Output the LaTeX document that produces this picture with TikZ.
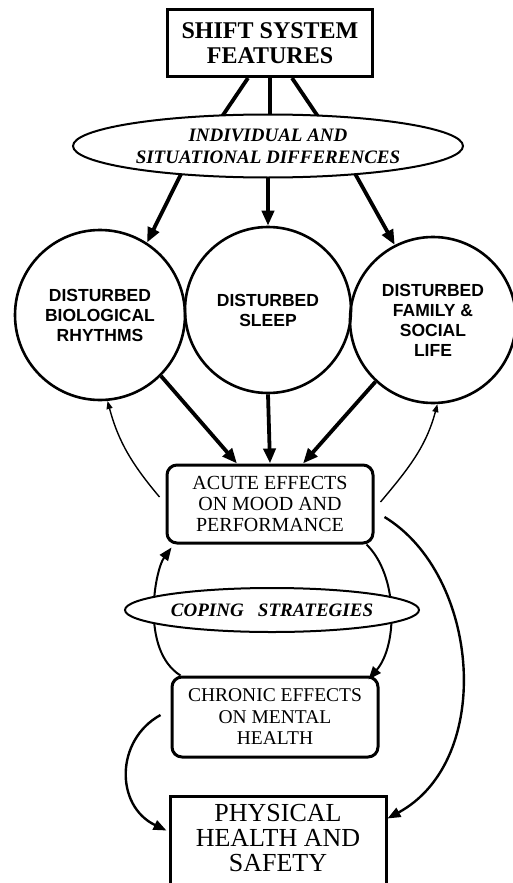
\documentclass[tikz,border=0pt]{standalone}
\usepackage{fontspec}
\setmainfont{Liberation Serif}
\setsansfont{Liberation Sans}
\usetikzlibrary{arrows.meta,shapes.geometric,calc}

\tikzset{
  bigtip/.style={-{Triangle[length=15pt,width=12pt]}},
  midtip/.style={-{Triangle[length=13pt,width=10pt]}},
  smalltip/.style={-{Triangle[length=8pt,width=6pt]}},
  thickline/.style={line width=3.8pt},
  topbox/.style={draw,line width=3pt,minimum width=205pt,minimum height=67pt,
    align=center,inner sep=0pt,font=\bfseries\fontsize{24}{25}\selectfont},
  oval/.style={draw,fill=white,ellipse,line width=2pt,inner sep=0pt,align=center,
    font=\bfseries\itshape\fontsize{19}{22}\selectfont},
  disc/.style={draw,circle,line width=2.6pt,inner sep=0pt,align=center,
    font=\sffamily\bfseries\fontsize{17.5}{20}\selectfont},
  effectbox/.style={draw,rounded corners=10pt,line width=3pt,align=center,inner sep=0pt,
    minimum width=206pt},
  plainbox/.style={draw,line width=3pt,inner sep=0pt},
}

\begin{document}
\begin{tikzpicture}[x=1pt,y=-1pt]
\useasboundingbox (0,0) rectangle (512,883);

% --- nodes ---
\node[topbox] (shift) at (270,43) {SHIFT SYSTEM\\FEATURES};

\node[disc,minimum size=170pt] (bio)  at (100,315) {DISTURBED\\BIOLOGICAL\\RHYTHMS};
\node[disc,minimum size=166pt] (sleep) at (268,310) {DISTURBED\\SLEEP};
\node[disc,minimum size=166pt] (fam)  at (433,320) {DISTURBED\\FAMILY \&\\SOCIAL\\LIFE};

\node[effectbox,minimum height=78pt,font=\fontsize{20}{21}\selectfont]
  (acute) at (270,504) {ACUTE EFFECTS\\ON MOOD AND\\PERFORMANCE};
\node[effectbox,minimum height=80pt,font=\fontsize{19.5}{21.5}\selectfont]
  (chronic) at (275,717) {CHRONIC EFFECTS\\ON MENTAL\\HEALTH};

\node[plainbox,minimum width=216pt,minimum height=110pt] (phys) at (278,851) {};
\node[align=center,inner sep=0pt,font=\fontsize{26}{25}\selectfont]
  (physlabel) at ([yshift=-44pt]phys.north) {PHYSICAL\\HEALTH AND\\SAFETY};

% --- shift system features down to the three disturbances ---
\coordinate (legL) at ([xshift=-22pt]shift.south);
\coordinate (legM) at (shift.south);
\coordinate (legR) at ([xshift=22pt]shift.south);
\draw[thickline] (legL) -- ++(-27,40);
\draw[thickline] (legM) -- ++(0,40);
\draw[thickline] (legR) -- ++(27,40);

\draw[thickline,bigtip] (183,170) -- (bio.57);
\draw[thickline,bigtip] (268,170) -- (sleep.north);
\draw[thickline,bigtip] (353,170) -- (fam.117);

\node[oval,minimum width=390pt,minimum height=63pt] (indiv) at (268,146)
  {INDIVIDUAL AND\\SITUATIONAL DIFFERENCES};

% --- disturbances into acute effects ---
\draw[thickline,bigtip] (bio.-45) -- ([xshift=-33pt]acute.north);
\draw[thickline,bigtip] (sleep.south) -- (acute.north);
\draw[thickline,bigtip] (fam.-133) -- ([xshift=33pt]acute.north);

% --- feedback from acute effects ---
\draw[line width=1.4pt,smalltip] ([xshift=-6pt,yshift=7pt]acute.west)
  to[out=130,in=-75] (bio.-85);
\draw[line width=1.4pt,smalltip] ([xshift=6pt,yshift=2pt]acute.east)
  to[out=50,in=-105] (fam.-87);

% --- acute effects straight to physical health ---
\draw[line width=2.4pt,midtip] ([xshift=10pt,yshift=-13pt]acute.east)
  .. controls (480,575) and (495,760) .. ([yshift=-24pt]phys.north east);

% --- loop through coping strategies ---
\draw[line width=2pt,midtip] ([xshift=10pt]chronic.north west)
  .. controls (140,650) and (155,570) .. ([xshift=6pt,yshift=-3pt]acute.south west);
\draw[line width=2pt,midtip] ([xshift=-8pt]acute.south east)
  .. controls (398,575) and (398,645) .. ([xshift=-11pt,yshift=-4pt]chronic.north east);

\node[oval,minimum width=294pt,minimum height=44pt] (coping) at (272,610)
  {COPING\ \ \ STRATEGIES};

% --- chronic effects to physical health ---
\draw[line width=2.4pt,midtip] ([xshift=-10pt,yshift=2pt]chronic.west)
  .. controls (115,740) and (115,806) .. ([xshift=-2pt,yshift=-36pt]phys.north west);
\end{tikzpicture}
\end{document}
